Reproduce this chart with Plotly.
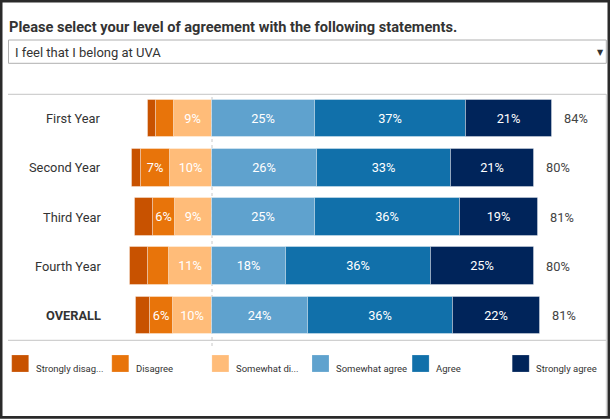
import plotly.graph_objects as go

# ---------------- data ----------------
rows = ["First Year", "Second Year", "Third Year", "Fourth Year", "OVERALL"]
strongly_disagree = [2.1, 2.3, 4.4, 4.4, 3.4]
disagree = [4.4, 7.2, 5.6, 5.2, 5.6]
somewhat_disagree = [9.4, 10.4, 9.1, 10.6, 9.7]
somewhat_agree = [25.4, 25.9, 25.4, 18.2, 23.8]
agree = [37.4, 33.2, 36.1, 36.1, 35.9]
strongly_agree = [21.3, 20.7, 19.1, 25.4, 21.6]
legend_labels = ["Strongly disag...", "Disagree", "Somewhat di...",
                 "Somewhat agree", "Agree", "Strongly agree"]
title_text = "Please select your level of agreement with the following statements."
dropdown_text = "I feel that I belong at UVA"

# ---------------- styling ----------------
W, H = 610, 419
L, R, T, B = 8, 607, 94, 340
FONT = "Roboto, 'Open Sans', Arial, sans-serif"
colors = {
    "sd": "#c85200", "d": "#e8740a", "swd": "#ffbc79",
    "swa": "#5fa2ce", "a": "#1170aa", "sa": "#00245a",
}


def px(x):
    return (x - L) / (R - L)


def py(y):
    return (B - y) / (B - T)


def lab(vals):
    return [f"{round(v)}%" if v >= 5.5 else "" for v in vals]


fig = go.Figure()
# negative side (first added sits nearest zero)
series = [
    ("Somewhat disagree", [-v for v in somewhat_disagree], somewhat_disagree, colors["swd"]),
    ("Disagree", [-v for v in disagree], disagree, colors["d"]),
    ("Strongly disagree", [-v for v in strongly_disagree], strongly_disagree, colors["sd"]),
    ("Somewhat agree", somewhat_agree, somewhat_agree, colors["swa"]),
    ("Agree", agree, agree, colors["a"]),
    ("Strongly agree", strongly_agree, strongly_agree, colors["sa"]),
]
for name, xs, raw, col in series:
    fig.add_trace(go.Bar(
        name=name, y=rows, x=xs, orientation="h", width=0.766,
        marker=dict(color=col, line=dict(color="rgba(255,255,255,0.35)", width=1)),
        text=lab(raw), textposition="inside", insidetextanchor="middle",
        textangle=0, constraintext="none",
        textfont=dict(color="white", size=12.8, family=FONT),
        hoverinfo="skip", showlegend=False,
    ))

ann = []
shapes = []

# totals
for r, a1, a2, a3 in zip(rows, somewhat_agree, agree, strongly_agree):
    tot = a1 + a2 + a3
    ann.append(dict(x=tot, y=r, xref="x", yref="y", text=f"{round(tot)}%",
                    showarrow=False, xanchor="left", xshift=10,
                    font=dict(size=12.8, color="#444", family=FONT)))
# row labels
for r in rows:
    ann.append(dict(x=px(102.5), y=r, xref="paper", yref="y",
                    text=f"<b>{r}</b>" if r == "OVERALL" else r,
                    showarrow=False, xanchor="right",
                    font=dict(size=12.8, color="#333", family=FONT)))

# title
ann.append(dict(x=px(7), y=py(27), xref="paper", yref="paper", text=f"<b>{title_text}</b>",
                showarrow=False, xanchor="left", yanchor="middle",
                font=dict(size=14.6, color="#333", family=FONT)))
# dropdown
shapes.append(dict(type="rect", xref="paper", yref="paper",
                   x0=px(8.5), x1=px(606.3), y0=py(40), y1=py(63.3),
                   line=dict(color="#b0b0b0", width=1), fillcolor="white"))
ann.append(dict(x=px(12.5), y=py(52), xref="paper", yref="paper", text=dropdown_text,
                showarrow=False, xanchor="left", yanchor="middle",
                font=dict(size=13, color="#333", family=FONT)))
ann.append(dict(x=px(600), y=py(52), xref="paper", yref="paper", text="▼",
                showarrow=False, xanchor="center", yanchor="middle",
                font=dict(size=8, color="#333", family="DejaVu Sans")))

# horizontal rule lines
for yy in (94.3, 340.3):
    shapes.append(dict(type="line", xref="paper", yref="paper",
                       x0=px(8), x1=px(606.3), y0=py(yy), y1=py(yy),
                       line=dict(color="#d0d0d0", width=1.3)))
# right gray line
shapes.append(dict(type="line", xref="paper", yref="paper",
                   x0=px(606.3), x1=px(606.3), y0=py(94), y1=py(416),
                   line=dict(color="#cfcfcf", width=1)))
# zero line
shapes.append(dict(type="line", xref="x", yref="paper", x0=0, x1=0,
                   y0=py(346), y1=py(94.3),
                   line=dict(color="#c8c8c8", width=1, dash="dot"), layer="below"))

# legend
legend_colors = [colors[k] for k in ("sd", "d", "swd", "swa", "a", "sa")]
for i, (txt, col) in enumerate(zip(legend_labels, legend_colors)):
    x0 = 11.7 + 100.1 * i
    shapes.append(dict(type="rect", xref="paper", yref="paper",
                       x0=px(x0), x1=px(x0 + 17), y0=py(355), y1=py(372),
                       line=dict(color="rgba(255,255,255,0.4)", width=0.5), fillcolor=col))
    ann.append(dict(x=px(x0 + 22), y=py(368), xref="paper", yref="paper", text=txt,
                    showarrow=False, xanchor="left", yanchor="middle",
                    font=dict(size=9.5, color="#333", family=FONT)))

# outer dark frame
shapes.append(dict(type="rect", xref="paper", yref="paper",
                   x0=px(1.2), x1=px(608.8), y0=py(417.4), y1=py(1.2),
                   line=dict(color="#2a2a2a", width=2.6)))

fig.update_layout(
    width=W, height=H, barmode="relative", bargap=0,
    margin=dict(l=L, r=W - R, t=T, b=H - B, pad=0),
    paper_bgcolor="white", plot_bgcolor="white",
    xaxis=dict(range=[(L - 212) / 4.04, (R - 212) / 4.04], visible=False, fixedrange=True),
    yaxis=dict(range=[4.5, -0.5], visible=False, fixedrange=True,
               categoryorder="array", categoryarray=rows),
    annotations=ann, shapes=shapes, showlegend=False,
    font=dict(family=FONT),
)
fig.write_html(
    "out.html",
    config={"displayModeBar": False},
    post_script="document.body.style.margin='0';document.body.style.overflow='hidden';",
)
